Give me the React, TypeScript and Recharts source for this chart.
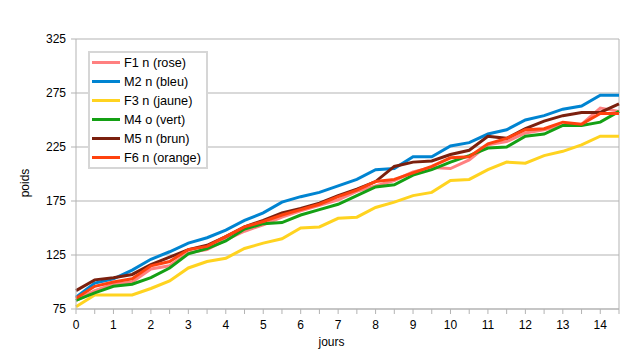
import React from 'react';
import { LineChart, Line, XAxis, YAxis, CartesianGrid, Legend, ReferenceLine } from 'recharts';

const days = [0, 0.5, 1, 1.5, 2, 2.5, 3, 3.5, 4, 4.5, 5, 5.5, 6, 6.5, 7, 7.5, 8, 8.5, 9, 9.5, 10, 10.5, 11, 11.5, 12, 12.5, 13, 13.5, 14, 14.5];

const f1Rose = [83, 92, 98, 100, 112, 115, 127, 130, 139, 147, 153, 160, 166, 171, 176, 184, 189, 194, 202, 206, 205, 213, 227, 230, 238, 241, 245, 246, 261, 258];
const m2Bleu = [86, 99, 103, 111, 121, 128, 136, 141, 148, 157, 164, 174, 179, 183, 189, 195, 204, 205, 216, 216, 226, 229, 237, 241, 250, 254, 260, 263, 273, 273];
const f3Jaune = [77, 88, 88, 88, 94, 101, 113, 119, 122, 131, 136, 140, 150, 151, 159, 160, 169, 174, 180, 183, 194, 195, 204, 211, 210, 217, 221, 227, 235, 235];
const m4Vert = [83, 90, 96, 98, 104, 113, 126, 131, 138, 149, 154, 155, 162, 167, 172, 180, 188, 190, 199, 204, 211, 217, 224, 225, 235, 237, 245, 245, 248, 258];
const m5Brun = [92, 102, 104, 107, 116, 123, 130, 134, 142, 151, 157, 164, 168, 173, 180, 186, 193, 207, 211, 212, 218, 222, 235, 233, 242, 249, 254, 257, 257, 265];
const f6Orange = [85, 96, 100, 103, 115, 119, 130, 133, 142, 151, 156, 162, 167, 172, 179, 185, 193, 195, 201, 207, 215, 216, 228, 233, 241, 242, 248, 246, 256, 256];

const yTicks = [75, 125, 175, 225, 275, 325];
const xTicks = days;

const seriesNames = ['F1 n (rose)', 'M2 n (bleu)', 'F3 n (jaune)', 'M4 o (vert)', 'M5 n (brun)', 'F6 n (orange)'];
const seriesKeys = ['f1', 'm2', 'f3', 'm4', 'm5', 'f6'];
const seriesColors = ['#ff8080', '#0084d1', '#ffd320', '#14a014', '#7b200e', '#ff420e'];
const seriesValues = [f1Rose, m2Bleu, f3Jaune, m4Vert, m5Brun, f6Orange];

const data = days.map((d, i) => {
  const row: Record<string, number> = { jour: d };
  seriesKeys.forEach((k, s) => {
    row[k] = seriesValues[s][i];
  });
  return row;
});

const FONT = '"Liberation Sans", Arial, sans-serif';
const GRID = '#b3b3b3';

const LegendBox = () => (
  <div
    style={{
      border: '2px solid #d6d6d6',
      background: '#fff',
      padding: '0 5px 0 2px',
      fontFamily: FONT,
      fontSize: 12.7,
      color: '#000',
      textAlign: 'left',
    }}
  >
    {seriesNames.map((n, i) => (
      <div key={n} style={{ display: 'flex', alignItems: 'center', height: 19, whiteSpace: 'nowrap' }}>
        <span style={{ display: 'inline-block', width: 28, height: 3, background: seriesColors[i], marginRight: 4 }} />
        <span>{n}</span>
      </div>
    ))}
  </div>
);

function XLabel(props: any) {
  const vb = props.viewBox || {};
  return (
    <text x={vb.x + vb.width / 2 - 16} y={vb.y + 37} textAnchor="middle" fontFamily={FONT} fontSize={12} fill="#000">
      jours
    </text>
  );
}

function YLabel(props: any) {
  const vb = props.viewBox || {};
  const cx = 25;
  const cy = vb.y + vb.height / 2 + 9;
  return (
    <text x={cx} y={cy} textAnchor="middle" dominantBaseline="central" transform={`rotate(-90, ${cx}, ${cy})`} fontFamily={FONT} fontSize={12} fill="#000">
      poids
    </text>
  );
}

export default function App() {
  return (
    <div style={{ position: 'absolute', left: 0, top: 0, width: 630, height: 355, background: '#fff' }}>
      <LineChart
        width={630}
        height={355}
        data={data}
        margin={{ top: 39, right: 11, bottom: 6, left: 0 }}
        style={{ fontFamily: FONT }}
      >
        <CartesianGrid vertical={false} stroke={GRID} strokeWidth={1} />
        <XAxis
          dataKey="jour"
          type="number"
          domain={[0, 14.5]}
          ticks={xTicks}
          interval={0}
          tickFormatter={(v: number) => (Number.isInteger(v) ? String(v) : '')}
          stroke={GRID}
          tickLine={{ stroke: GRID }}
          tickSize={5}
          tickMargin={6}
          tick={{ fill: '#000', fontSize: 12, fontFamily: FONT }}
          height={40}
          label={<XLabel />}
        />
        <YAxis
          type="number"
          domain={[75, 325]}
          ticks={yTicks}
          interval={0}
          stroke={GRID}
          tickLine={{ stroke: GRID }}
          tickSize={5}
          tickMargin={5}
          tick={{ fill: '#000', fontSize: 12, fontFamily: FONT }}
          width={76}
          label={<YLabel />}
        />
        <ReferenceLine x={14.5} stroke={GRID} strokeWidth={1} />
        {seriesKeys.map((k, i) => (
          <Line
            key={k}
            type="linear"
            dataKey={k}
            name={seriesNames[i]}
            stroke={seriesColors[i]}
            strokeWidth={3}
            dot={false}
            activeDot={false}
            isAnimationActive={false}
          />
        ))}
        <Legend
          layout="vertical"
          align="center"
          verticalAlign="middle"
          content={<LegendBox />}
          wrapperStyle={{ position: 'absolute', left: 88, top: 51, width: 'auto', height: 'auto', margin: 0 }}
        />
      </LineChart>
    </div>
  );
}
